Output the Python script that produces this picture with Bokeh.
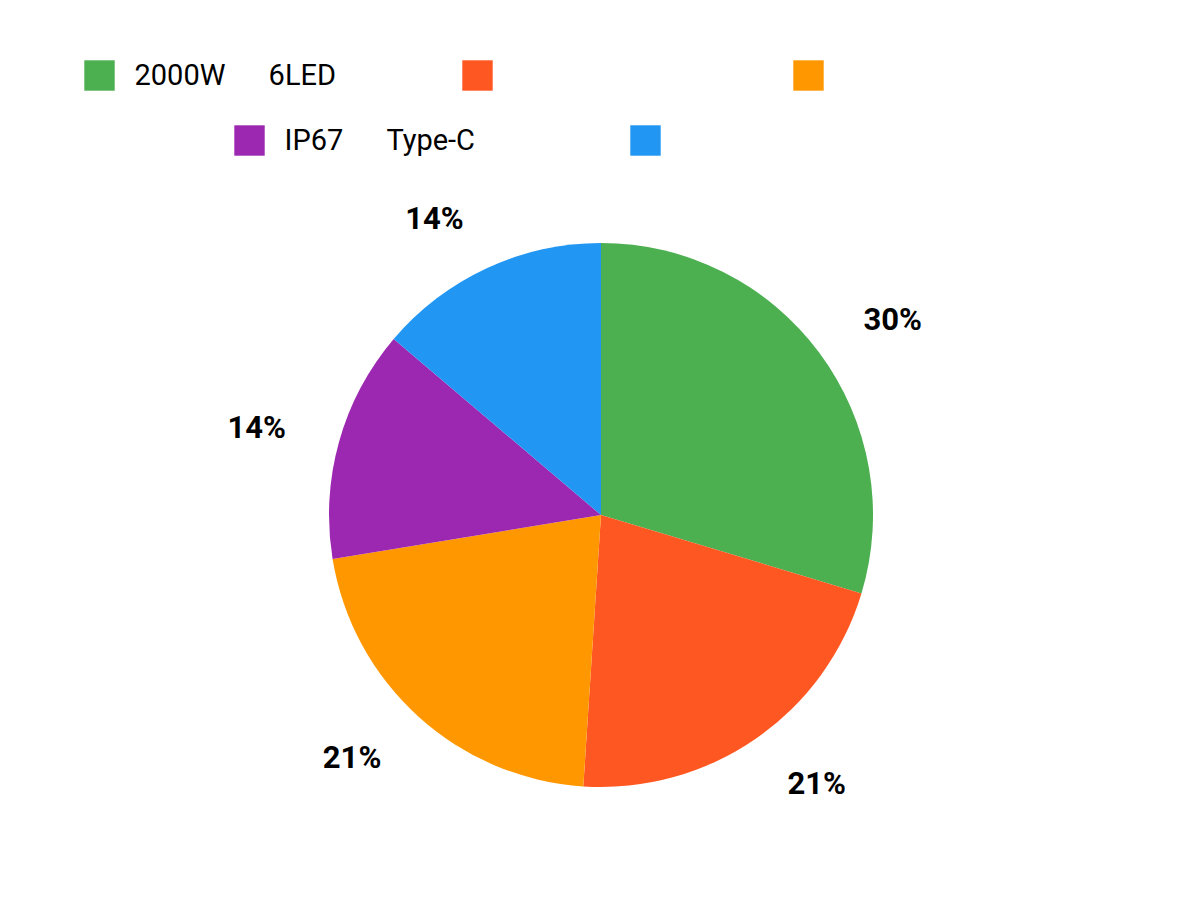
import numpy as np
from bokeh.plotting import figure
from bokeh.models import ColumnDataSource, Range1d, Legend, LegendItem
from bokeh.core.properties import value
from bokeh.embed import file_html
from bokeh.resources import INLINE

# ---- data ----
NB = "\u00a0"
categories = ["2000W" + NB * 6 + "6LED", "", "", "IP67" + NB * 6 + "Type-C", ""]
counts = [43, 31, 31, 20, 20]
colors = ["#4CAF50", "#FF5722", "#FF9800", "#9C27B0", "#2196F3"]

# ---- derived ----
total = float(sum(counts))
frac = np.array(counts) / total
cum = np.concatenate([[0.0], np.cumsum(frac)])
start = np.pi / 2 - cum[1:] * 2 * np.pi
end = np.pi / 2 - cum[:-1] * 2 * np.pi
mid = np.pi / 2 - (cum[:-1] + cum[1:]) / 2 * 2 * np.pi
pct_labels = [f"{round(f * 100):.0f}%" for f in frac]

R = 272
LR = 327
src = ColumnDataSource(dict(
    cat=categories, start=start, end=end, color=colors,
    lx=LR * np.cos(mid), ly=LR * np.sin(mid), pct=pct_labels,
    align=["left" if c >= 0 else "right" for c in np.cos(mid)],
))

W, H = 1200, 900
p = figure(width=W, height=H, output_backend="svg", toolbar_location=None,
           x_axis_type=None, y_axis_type=None, min_border=0,
           x_range=Range1d(-600.5, 599.5), y_range=Range1d(-385.5, 514.5))
p.outline_line_color = None
p.grid.visible = False
p.background_fill_color = "white"
p.border_fill_color = "white"

wr = p.wedge(x=0, y=0, radius=R, start_angle="start", end_angle="end",
             fill_color="color", line_color=None, source=src)

p.text(x="lx", y="ly", text="pct", source=src, text_align="align",
       text_baseline="middle", text_font=value("Roboto"), text_font_style="bold",
       text_font_size="31px", text_color="#000000")

# legend: two centred rows, one legend per entry
row1_vy, row2_vy = 805.8, 740.8
legend_pos = [(79.5, row1_vy), (457.5, row1_vy), (788.5, row1_vy),
              (229.5, row2_vy), (625.5, row2_vy)]
for i, (lab, pos) in enumerate(zip(categories, legend_pos)):
    lg = Legend(items=[LegendItem(label=value(lab), renderers=[wr], index=i)],
                location=pos, orientation="horizontal",
                glyph_width=38, glyph_height=38, label_standoff=17,
                padding=0, margin=0, spacing=0,
                border_line_color=None, background_fill_alpha=0,
                label_text_font="Roboto", label_text_font_size="29px",
                label_text_color="#000000", label_text_baseline="middle")
    p.add_layout(lg)

open("out.html", "w").write(file_html(p, INLINE))
